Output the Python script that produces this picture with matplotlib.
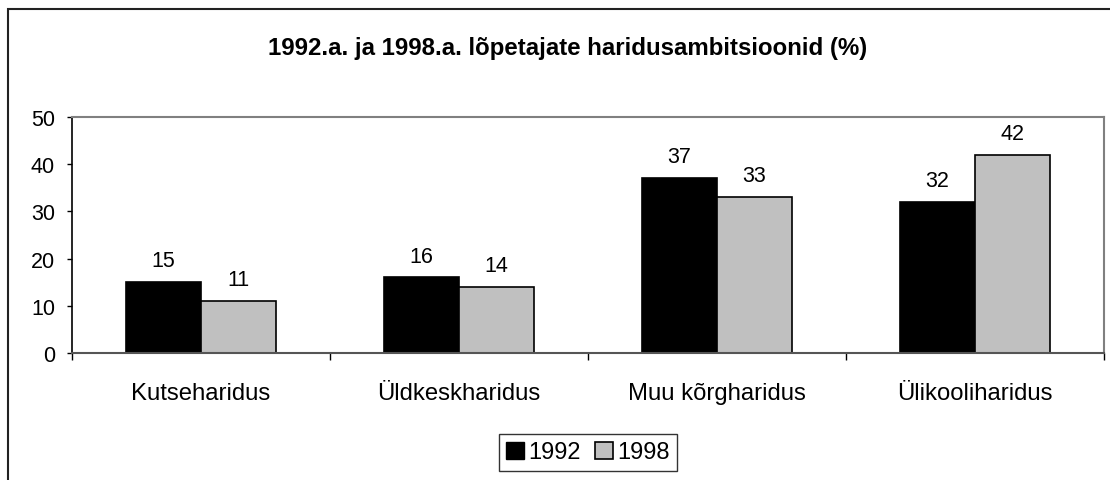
import matplotlib
matplotlib.use("Agg")
import matplotlib.pyplot as plt
import numpy as np
from matplotlib.patches import Patch, Rectangle

plt.rcParams.update({
    "font.family": ["Liberation Sans", "DejaVu Sans"],
    "font.size": 15.5,
})

# ── data ──
categories = ["Kutseharidus", "Üldkeskharidus", "Muu kõrgharidus", "Ülikooliharidus"]
years = ["1992", "1998"]
vals_1992 = [15, 16, 37, 32]
vals_1998 = [11, 14, 33, 42]
title = "1992.a. ja 1998.a. lõpetajate haridusambitsioonid (%)"

W, H = 1110, 481
fig = plt.figure(figsize=(W / 100, H / 100), dpi=100)

# outer chart frame (right and bottom edges fall outside the image)
fig.patches.append(Rectangle((8 / W, -0.1), 1.2, (H - 10) / H + 0.1,
                             transform=fig.transFigure, fill=False,
                             edgecolor="#222222", linewidth=1.5))

# plot area in pixels: x 72..1104, y 118..354
ax = fig.add_axes([72 / W, (H - 354) / H, 1032 / W, 236 / H])

x = np.arange(len(categories))
w = 0.29
b1 = ax.bar(x - w / 2, vals_1992, w, color="black", edgecolor="black", linewidth=1.2)
b2 = ax.bar(x + w / 2, vals_1998, w, color="#c0c0c0", edgecolor="black", linewidth=1.2)

for bars, vals in ((b1, vals_1992), (b2, vals_1998)):
    for bar, v in zip(bars, vals):
        ax.annotate(str(v), (bar.get_x() + bar.get_width() / 2, v),
                    xytext=(0, 11.5), textcoords="offset points",
                    ha="center", va="baseline", fontsize=15.5)

ax.set_xlim(-0.5, len(categories) - 0.5)
ax.set_ylim(0, 50)
ax.set_yticks(range(0, 51, 10))
ax.tick_params(axis="y", direction="out", length=3.6, width=1, pad=8.6, labelsize=15.5)

ax.set_xticks(x)
ax.set_xticklabels(categories)
ax.set_xticks(np.arange(-0.5, len(categories), 1), minor=True)
ax.tick_params(axis="x", which="major", length=0, pad=21, labelsize=17.2)
ax.tick_params(axis="x", which="minor", direction="out", length=5, width=1, color="black")

ax.spines["left"].set_color("black")
ax.spines["left"].set_linewidth(1.2)
ax.spines["bottom"].set_color("#555555")
ax.spines["bottom"].set_linewidth(1.5)
for s in ("top", "right"):
    ax.spines[s].set_color("#808080")
    ax.spines[s].set_linewidth(1.5)

fig.text(568 / W, 1 - 55 / H, title, ha="center", va="baseline",
         fontsize=17.3, fontweight="bold")

handles = [Patch(facecolor="black", edgecolor="black"),
           Patch(facecolor="#c0c0c0", edgecolor="black", linewidth=1.2)]
leg = fig.legend(handles, years, loc="center", bbox_to_anchor=(588 / W, 1 - 453.5 / H),
                 ncol=2, frameon=True, fancybox=False, edgecolor="black",
                 handlelength=0.75, handleheight=0.75, handletextpad=0.2,
                 columnspacing=0.6, borderpad=0.3, fontsize=17)
leg.get_frame().set_linewidth(1.0)

fig.savefig("out.png", dpi=100)
